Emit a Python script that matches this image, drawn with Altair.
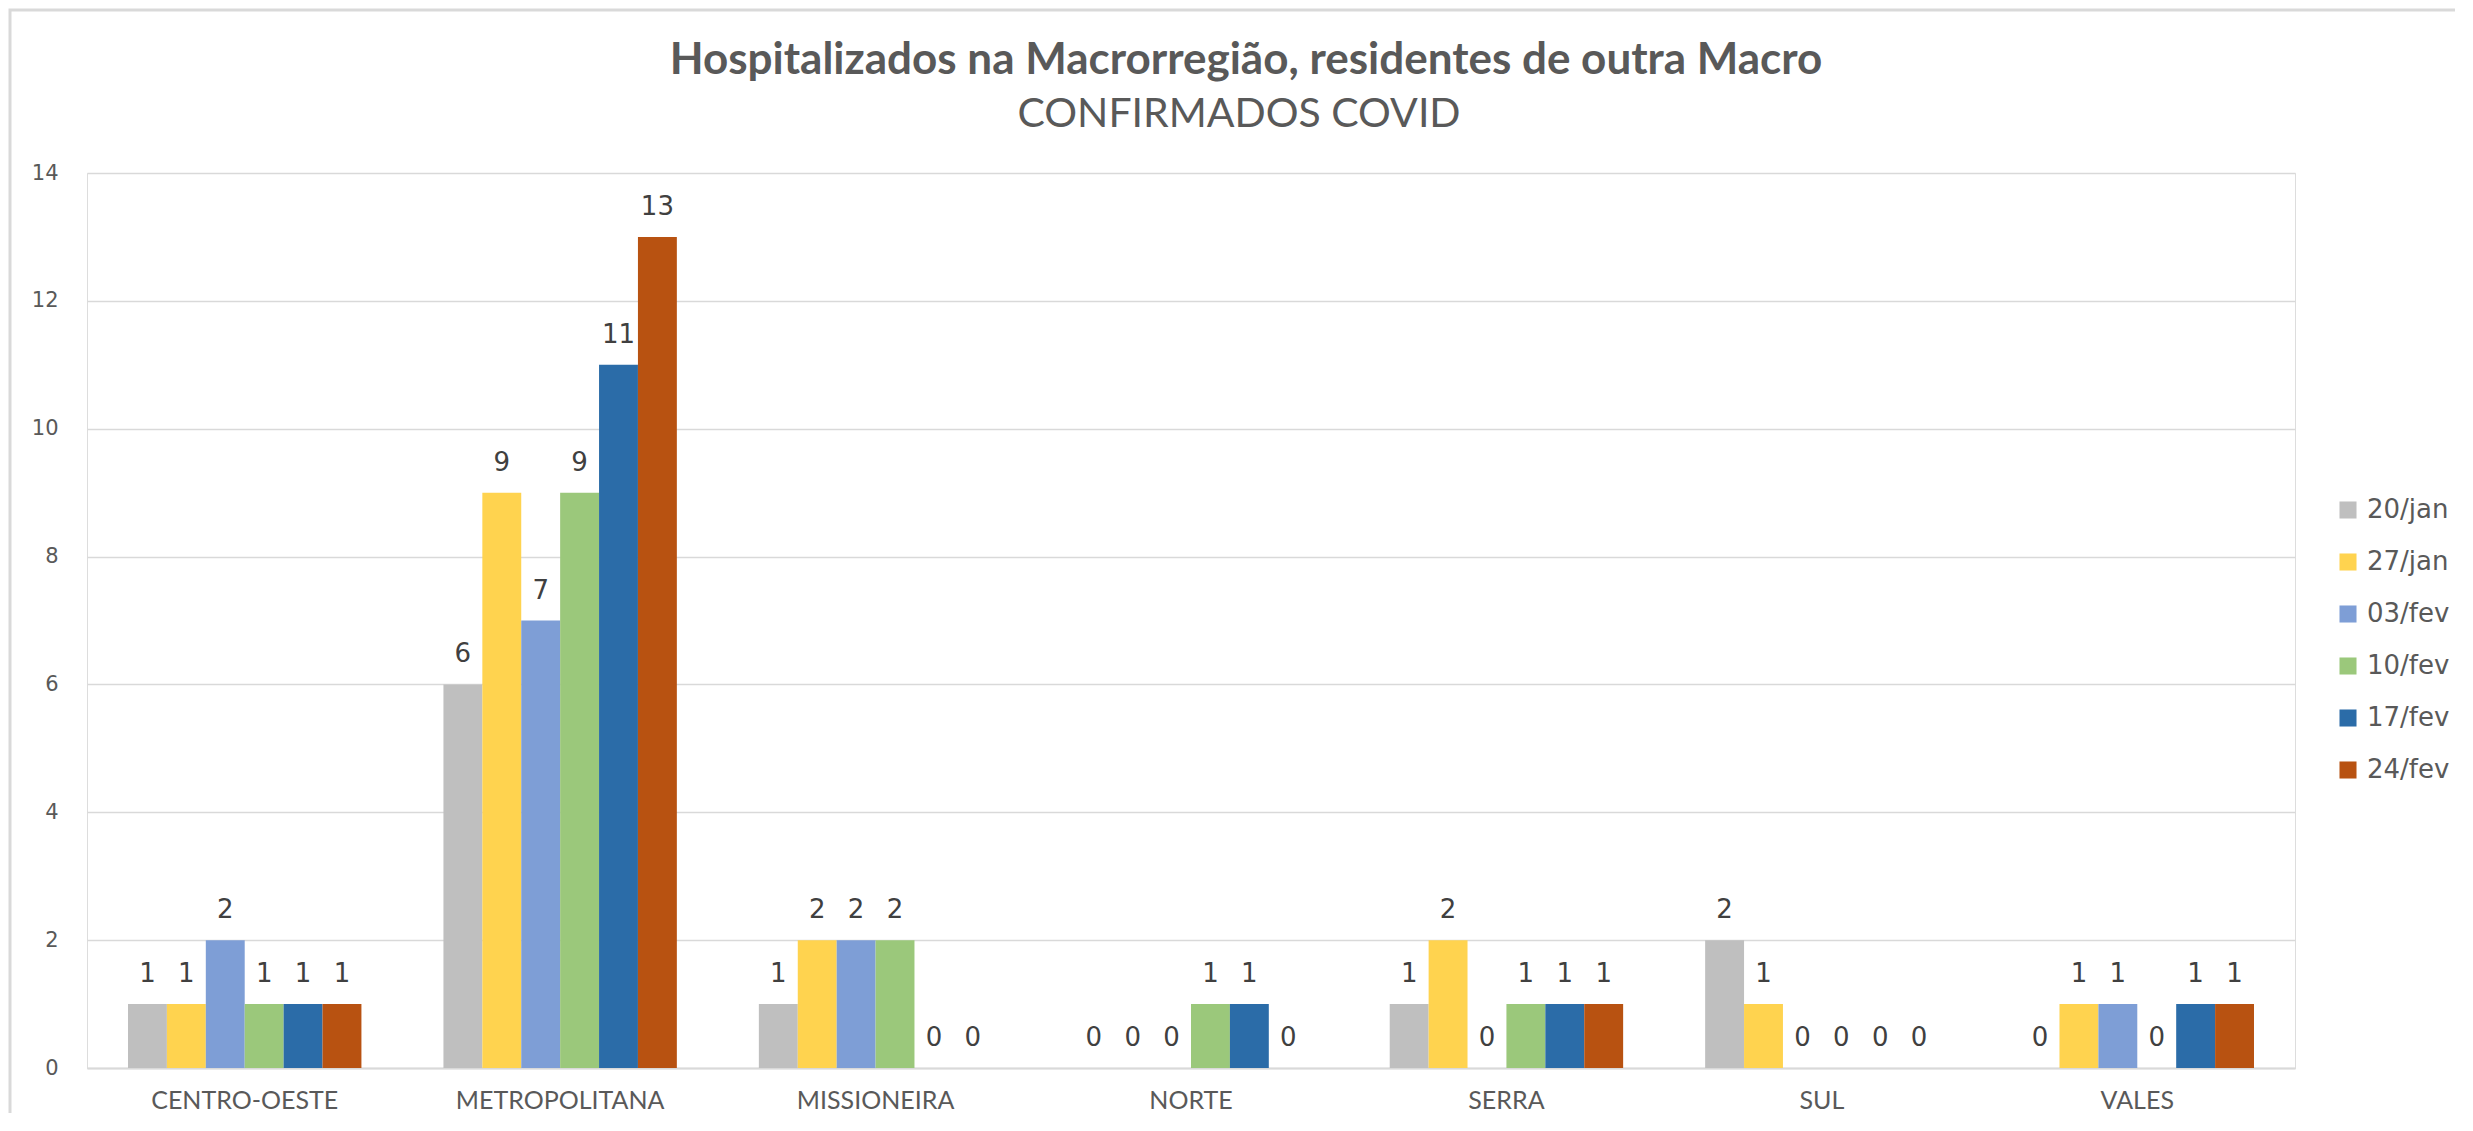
import altair as alt
import pandas as pd

categories = ["CENTRO-OESTE", "METROPOLITANA", "MISSIONEIRA", "NORTE", "SERRA", "SUL", "VALES"]
dates = ["20/jan", "27/jan", "03/fev", "10/fev", "17/fev", "24/fev"]
s_20jan = [1, 6, 1, 0, 1, 2, 0]
s_27jan = [1, 9, 2, 0, 2, 1, 1]
s_03fev = [2, 7, 2, 0, 0, 0, 1]
s_10fev = [1, 9, 2, 1, 1, 0, 0]
s_17fev = [1, 11, 0, 1, 1, 0, 1]
s_24fev = [1, 13, 0, 0, 1, 0, 1]
colors = ["#BFBFBF", "#FFD34F", "#7E9ED6", "#9BC87B", "#2B6CA8", "#B85211"]
title_text = ["Hospitalizados na Macrorregião, residentes de outra Macro"]
subtitle_text = ["CONFIRMADOS COVID"]

series = [s_20jan, s_27jan, s_03fev, s_10fev, s_17fev, s_24fev]
rows = []
for d, vals in zip(dates, series):
    for c, v in zip(categories, vals):
        rows.append({"Macro": c, "Data": d, "Valor": v})
df = pd.DataFrame(rows)

W, H = 2208, 895
FONT = "Lato"

x_enc = alt.X("Macro:N", sort=categories, title=None,
              scale=alt.Scale(paddingInner=0.26, paddingOuter=0.13),
              axis=alt.Axis(labelAngle=0, labelFont=FONT, labelFontSize=25,
                            labelColor="#595959", labelPadding=20, labelLimit=0,
                            ticks=False, domainColor="#D9D9D9", domainWidth=2,
                            grid=False))
xo_enc = alt.XOffset("Data:N", sort=dates,
                     scale=alt.Scale(paddingInner=0, paddingOuter=0))
y_enc = alt.Y("Valor:Q", title=None,
              scale=alt.Scale(domain=[0, 14], nice=False),
              axis=alt.Axis(values=[0, 2, 4, 6, 8, 10, 12, 14], format="d",
                            labelFont="DejaVu Sans", labelFontSize=21,
                            labelColor="#595959", labelPadding=29,
                            ticks=False, domain=False, gridColor="#D9D9D9",
                            gridWidth=1.5))

bars = alt.Chart(df).mark_bar().encode(
    x=x_enc,
    xOffset=xo_enc,
    y=y_enc,
    color=alt.Color("Data:N", sort=dates,
                    scale=alt.Scale(domain=dates, range=colors),
                    legend=alt.Legend(title=None, orient="none", legendX=2248,
                                      legendY=324, symbolType="square",
                                      symbolSize=290, symbolStrokeWidth=0,
                                      labelFont="DejaVu Sans", labelFontSize=26,
                                      labelColor="#595959", rowPadding=26,
                                      labelOffset=6)),
)

labels = alt.Chart(df).mark_text(baseline="middle", dy=-30, font="DejaVu Sans",
                                 fontSize=26, color="#404040").encode(
    x=alt.X("Macro:N", sort=categories),
    xOffset=alt.XOffset("Data:N", sort=dates),
    y=alt.Y("Valor:Q"),
    text=alt.Text("Valor:Q"),
)

border = alt.Chart(pd.DataFrame({"a": [0]})).mark_rect(
    fill="transparent", stroke="#D9D9D9", strokeWidth=3).encode(
    x=alt.value(-77), x2=alt.value(2420), y=alt.value(-163), y2=alt.value(1000))

title = alt.Chart(pd.DataFrame({"t": title_text})).mark_text(
    font=FONT, fontSize=44, fontWeight="bold", color="#595959",
    align="center", baseline="middle").encode(
    text="t:N", x=alt.value(1159), y=alt.value(-112))

subtitle = alt.Chart(pd.DataFrame({"t": subtitle_text})).mark_text(
    font=FONT, fontSize=41, color="#595959",
    align="center", baseline="middle").encode(
    text="t:N", x=alt.value(1152), y=alt.value(-58))

chart = alt.layer(border, bars, labels, title, subtitle).properties(
    width=W, height=H,
    autosize=alt.AutoSizeParams(type="none"),
    padding={"left": 79, "top": 165, "right": 160, "bottom": 45},
).configure_view(stroke=None).configure(background="white")

chart.save("out.html", embed_options={"renderer": "svg", "actions": False})
